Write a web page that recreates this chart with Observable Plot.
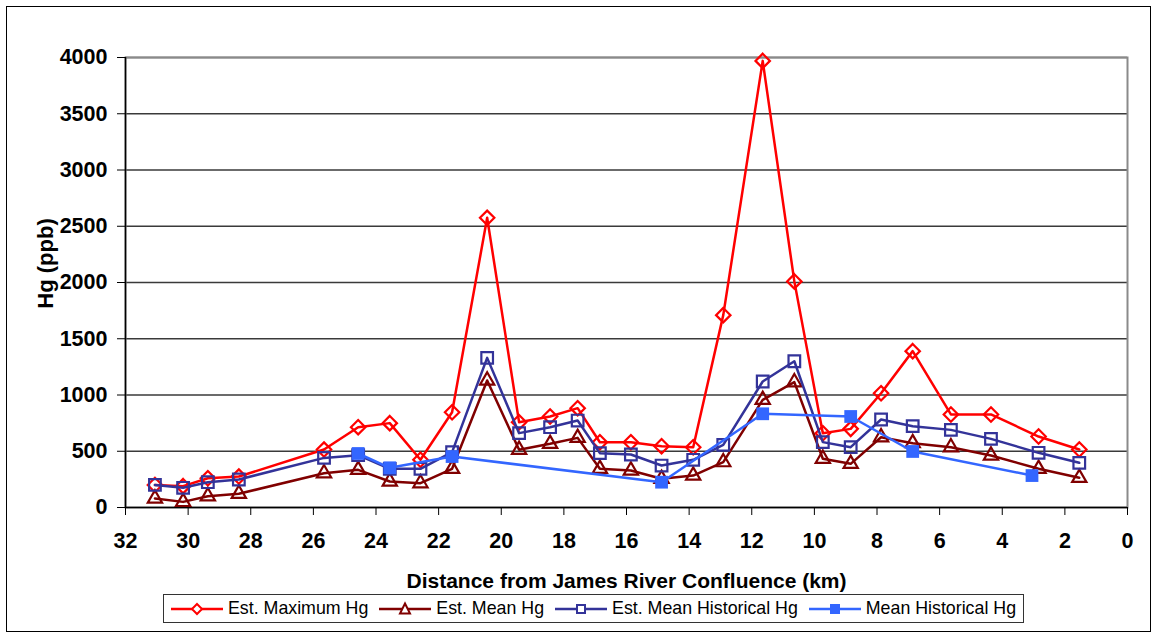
<!DOCTYPE html>
<html><head><meta charset="utf-8">
<script src="https://cdn.jsdelivr.net/npm/d3@7"></script>
<script src="https://cdn.jsdelivr.net/npm/@observablehq/plot@0.6"></script>
<style>
body{margin:0;background:#fff;font-family:"Liberation Sans",Arial,sans-serif;}
#wrap{position:relative;width:1157px;height:637px;overflow:hidden;background:#fff;}
#border{position:absolute;left:6px;top:6px;width:1145px;height:626px;border:1.5px solid #000;box-sizing:border-box;pointer-events:none;}
#chart{position:absolute;left:0;top:0;}
#legend{position:absolute;left:163px;top:594px;width:861px;height:29px;border:1px solid #333;box-sizing:border-box;display:flex;align-items:center;padding-left:7px;font-size:17.8px;color:#000;background:#fff;}
.item{display:flex;align-items:center;margin-right:11px;white-space:nowrap;}
.item svg{margin-right:5px;}
</style>
</head><body>
<div id="wrap"><div id="chart"></div><div id="legend"></div><div id="border"></div></div>
<script>
// Distance from James River Confluence (km)
const km = [31.06, 30.16, 29.37, 28.38, 25.66, 24.57, 23.56, 22.58, 21.57, 20.45, 19.43, 18.44, 17.56, 16.85, 15.86, 14.88, 13.87, 12.91, 11.65, 10.64, 9.73, 8.84, 7.87, 6.86, 5.64, 4.36, 2.84, 1.54];
const estMax = [200, 190, 260, 275, 515, 714, 750, 424, 847, 2575, 758, 809, 883, 580, 580, 545, 536, 1710, 3970, 2010, 660, 699, 1016, 1390, 827, 827, 631, 516];
const estMean = [80, 50, 100, 122, 305, 335, 231, 216, 344, 1129, 513, 566, 619, 344, 329, 255, 284, 403, 957, 1114, 433, 388, 625, 572, 536, 462, 344, 264];
const estMeanHist = [201, 175, 225, 249, 441, 465, 344, 344, 492, 1330, 661, 714, 773, 483, 471, 373, 424, 557, 1120, 1300, 581, 536, 782, 723, 690, 610, 486, 397];
const histKm = [24.57, 23.56, 21.57, 14.88, 11.65, 8.84, 6.86, 3.05];
const meanHist = [480, 353, 453, 225, 833, 809, 498, 284];
const xTicks = [32, 30, 28, 26, 24, 22, 20, 18, 16, 14, 12, 10, 8, 6, 4, 2, 0];
const yTicks = [0, 500, 1000, 1500, 2000, 2500, 3000, 3500, 4000];
const seriesNames = ["Est. Maximum Hg", "Est. Mean Hg", "Est. Mean Historical Hg", "Mean Historical Hg"];
const colors = ["#FF0000", "#800000", "#333399", "#3366FF"];

const mk = (xs, vs) => xs.map((k, i) => ({km: k, v: vs[i]}));
const dMax = mk(km, estMax), dMean = mk(km, estMean), dMH = mk(km, estMeanHist), dHist = mk(histKm, meanHist);

const chart = Plot.plot({
  width: 1157, height: 596,
  marginLeft: 125, marginRight: 30, marginTop: 57, marginBottom: 89,
  x: {type: "linear", domain: [32, 0]},
  y: {type: "linear", domain: [0, 4000]},
  style: {fontFamily: "'Liberation Sans', Arial, sans-serif", background: "transparent", color: "#000", overflow: "visible"},
  marks: [
    Plot.ruleY(yTicks.slice(1), {stroke: "#3a3a3a", strokeWidth: 1.6}),
    Plot.frame({stroke: "#8a8a8a", strokeWidth: 2}),
    Plot.ruleX([32], {stroke: "#000", strokeWidth: 1.5}),
    Plot.ruleY([0], {stroke: "#000", strokeWidth: 1.5}),
    Plot.axisY({ticks: yTicks, tickSize: 8, tickPadding: 10, fontSize: 21.5, fontWeight: "bold", label: null, tickFormat: d => String(d), stroke: "#000"}),
    Plot.axisX({ticks: xTicks, tickSize: 8, tickPadding: 17, fontSize: 21.5, fontWeight: "bold", label: null, tickFormat: d => String(d), stroke: "#000"}),
    Plot.line(dMax, {x: "km", y: "v", stroke: colors[0], strokeWidth: 2.5}),
    Plot.dot(dMax, {x: "km", y: "v", symbol: "diamond2", r: 6.5, stroke: colors[0], strokeWidth: 2.2, fill: "none"}),
    Plot.line(dMean, {x: "km", y: "v", stroke: colors[1], strokeWidth: 2.5}),
    Plot.dot(dMean, {x: "km", y: "v", symbol: "triangle2", r: 6.8, stroke: colors[1], strokeWidth: 2.2, fill: "none"}),
    Plot.line(dMH, {x: "km", y: "v", stroke: colors[2], strokeWidth: 2.5}),
    Plot.dot(dMH, {x: "km", y: "v", symbol: "square2", r: 7.4, stroke: colors[2], strokeWidth: 2.2, fill: "none"}),
    Plot.line(dHist, {x: "km", y: "v", stroke: colors[3], strokeWidth: 2.5}),
    Plot.dot(dHist, {x: "km", y: "v", symbol: "square", r: 7.2, fill: colors[3], stroke: "none"}),
    Plot.text(["Distance from James River Confluence (km)"], {frameAnchor: "bottom", textAnchor: "middle", dy: 74, fontSize: 21, fontWeight: "bold", lineAnchor: "middle", fill: "#000"}),
    Plot.text(["Hg (ppb)"], {frameAnchor: "left", textAnchor: "middle", dx: -80, dy: -19, rotate: -90, fontSize: 22, fontWeight: "bold", lineAnchor: "middle", fill: "#000"})
  ]
});
document.getElementById("chart").appendChild(chart);

// Legend
const markerPaths = [
  '<path d="M26,3 L31,8 L26,13 L21,8 Z" fill="#fff" stroke="' + colors[0] + '" stroke-width="2"/>',
  '<path d="M26,2.5 L31,12.5 L21,12.5 Z" fill="#fff" stroke="' + colors[1] + '" stroke-width="2"/>',
  '<rect x="22" y="4" width="8" height="8" fill="#fff" stroke="' + colors[2] + '" stroke-width="2"/>',
  '<rect x="21" y="3" width="10" height="10" fill="' + colors[3] + '"/>'
];
const legend = document.getElementById("legend");
seriesNames.forEach((name, i) => {
  const it = document.createElement("div");
  it.className = "item";
  it.innerHTML = '<svg width="52" height="16"><line x1="0" y1="8" x2="52" y2="8" stroke="' + colors[i] + '" stroke-width="2.5"/>' + markerPaths[i] + '</svg><span>' + name + '</span>';
  legend.appendChild(it);
});
</script>
</body></html>
